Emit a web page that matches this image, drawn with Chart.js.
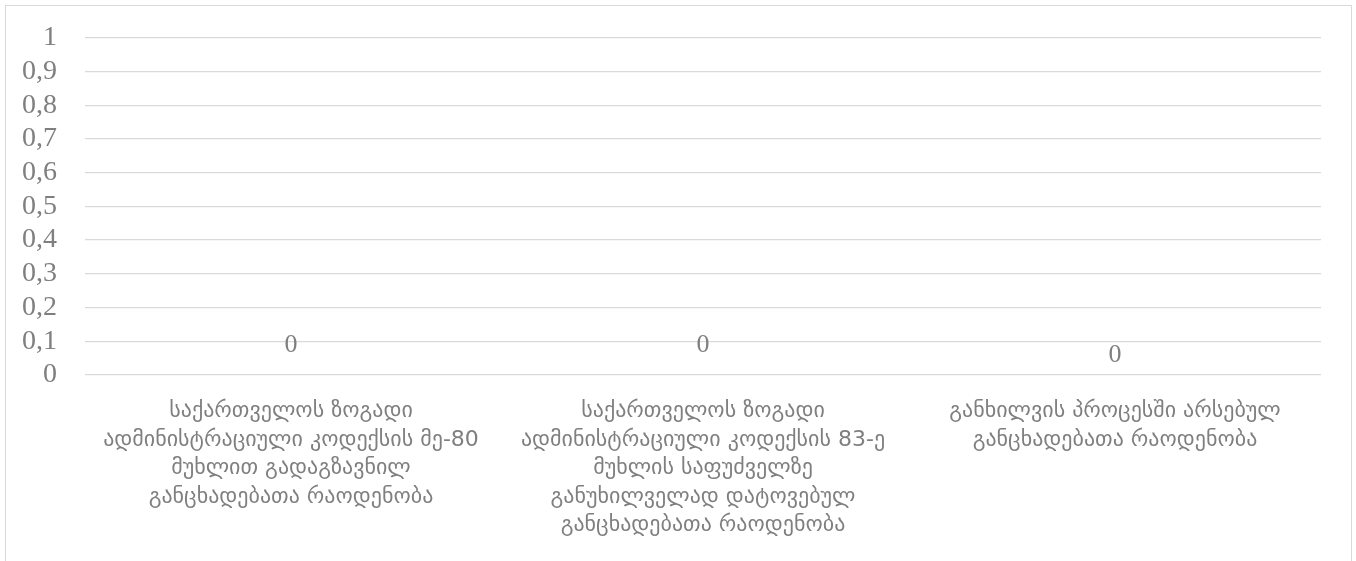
<!DOCTYPE html>
<html>
<head>
<meta charset="utf-8">
<script src="https://cdn.jsdelivr.net/npm/chart.js@4"></script>
<style>
    body { margin: 0; background: #fff; overflow: hidden; }
    #box { position: absolute; left: 5px; top: 5px; width: 1345px; height: 600px; border: 1px solid #d9d9d9; }
    #chart { position: absolute; left: 0; top: -13px; }
</style>
</head>
<body>
<div id="box"><canvas id="chart" width="1345" height="564"></canvas></div>
<script>
const categories = [
    ['საქართველოს ზოგადი', 'ადმინისტრაციული კოდექსის მე-80', 'მუხლით გადაგზავნილ', 'განცხადებათა რაოდენობა'],
    ['საქართველოს ზოგადი', 'ადმინისტრაციული კოდექსის 83-ე', 'მუხლის საფუძველზე', 'განუხილველად დატოვებულ', 'განცხადებათა რაოდენობა'],
    ['განხილვის პროცესში არსებულ', 'განცხადებათა რაოდენობა']
];
const values = [0, 0, 0];
const yMin = 0;
const yMax = 1;
const yStep = 0.1;

// excel puts the labels a bit higher on the first two
const labelOffsets = [30, 30, 20];

const grey = '#7f7f7f';

const valueLabels = {
    id: 'valueLabels',
    afterDatasetsDraw(chart) {
        let ctx = chart.ctx;
        let meta = chart.getDatasetMeta(0);
        ctx.save();
        ctx.font = '26px "Liberation Serif"';
        ctx.fillStyle = grey;
        ctx.textAlign = 'center';
        ctx.textBaseline = 'middle';
        meta.data.forEach((bar, i) => {
            let v = chart.data.datasets[0].data[i];
            ctx.fillText(String(v).replace('.', ','), bar.x, bar.y - labelOffsets[i]);
        });
        ctx.restore();
    }
};

let ctx = document.getElementById('chart').getContext('2d');
let myChart = new Chart(ctx, {
    type: 'bar',
    data: {
        labels: categories,
        datasets: [{
            data: values,
            backgroundColor: '#4472c4',
            borderWidth: 0
        }]
    },
    options: {
        responsive: false,
        animation: false,
        layout: { padding: { left: 16, right: 30, top: 4, bottom: 3 } },
        plugins: {
            legend: { display: false },
            tooltip: { enabled: false }
        },
        scales: {
            x: {
                grid: { display: false },
                border: { display: false },
                ticks: {
                    color: grey,
                    font: { family: '"DejaVu Sans"', size: 22, lineHeight: 1.3 },
                    maxRotation: 0,
                    autoSkip: false,
                    padding: 14
                }
            },
            y: {
                min: yMin,
                max: yMax,
                border: { display: false },
                grid: { color: '#d9d9d9', lineWidth: 1.3, drawTicks: false },
                afterFit: s => { s.width = 63; },
                ticks: {
                    stepSize: yStep,
                    autoSkip: false,
                    color: grey,
                    padding: 28,
                    font: { family: '"Liberation Serif"', size: 28 },
                    callback: v => (Math.round(v * 10) / 10).toString().replace('.', ',')
                }
            }
        }
    },
    plugins: [valueLabels]
});
</script>
</body>
</html>
